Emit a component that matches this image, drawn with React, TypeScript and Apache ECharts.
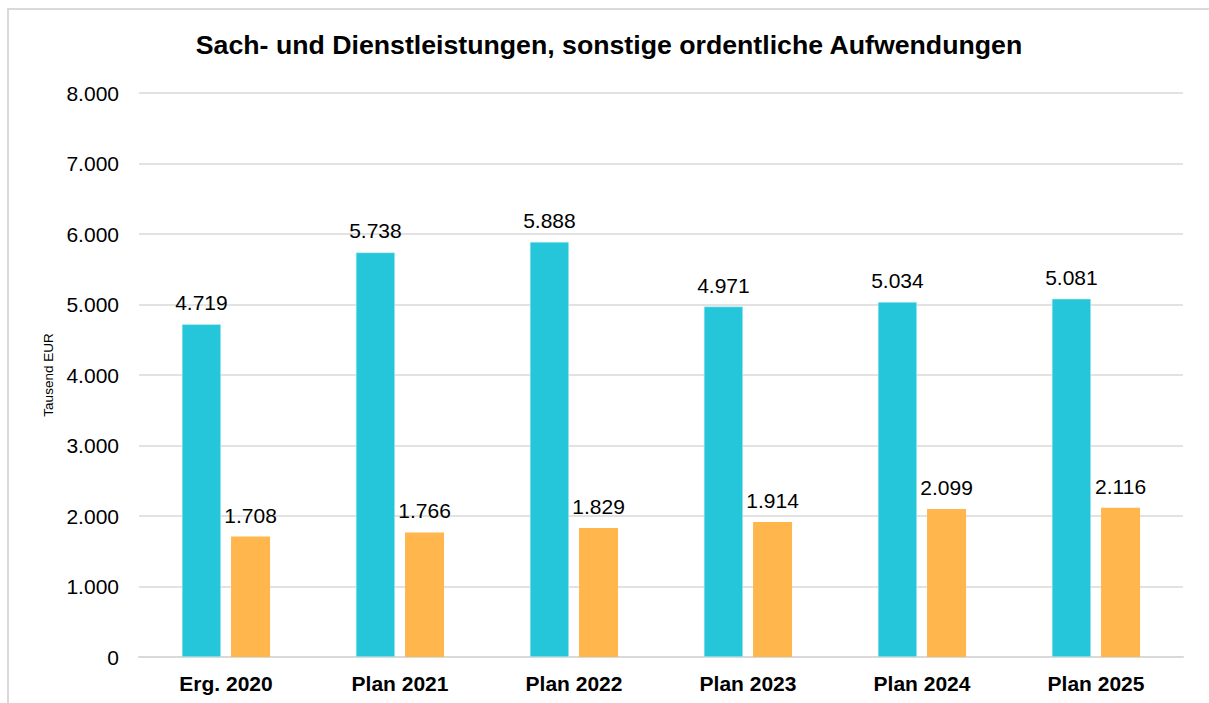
import React, { useEffect, useRef } from "react";
import * as echarts from "echarts";

const categories = ["Erg. 2020", "Plan 2021", "Plan 2022", "Plan 2023", "Plan 2024", "Plan 2025"];
const seriesA = [4719, 5738, 5888, 4971, 5034, 5081];
const seriesB = [1708, 1766, 1829, 1914, 2099, 2116];
const seriesNames = ["Sach- und Dienstleistungen", "sonstige ordentliche Aufwendungen"];
const titleText = "Sach- und Dienstleistungen, sonstige ordentliche Aufwendungen";
const yAxisName = "Tausend EUR";

const FONT = '"Liberation Sans", Arial, Helvetica, sans-serif';

const fmt = (v: number) => {
  const s = Math.round(v).toString();
  return s.replace(/\B(?=(\d{3})+(?!\d))/g, ".");
};

export default function App() {
  const ref = useRef<HTMLDivElement>(null);
  useEffect(() => {
    document.documentElement.style.overflow = "hidden";
    document.body.style.overflow = "hidden";
    if (!ref.current) return;
    const chart = echarts.init(ref.current, undefined, { renderer: "svg" });
    const label = {
      show: true,
      position: "top" as const,
      distance: 11,
      fontSize: 21,
      fontFamily: FONT,
      color: "#000",
      formatter: (p: any) => fmt(p.value),
    };
    chart.setOption({
      animation: false,
      backgroundColor: "#fff",
      textStyle: { fontFamily: FONT },
      graphic: [
        {
          type: "text",
          x: 600,
          y: 35,
          style: {
            text: titleText,
            textAlign: "center",
            textVerticalAlign: "middle",
            fontSize: 26.7,
            fontWeight: "bold",
            fontFamily: FONT,
            fill: "#000",
          },
        },
      ],
      grid: { left: 130, right: 26, top: 83, bottom: 46, containLabel: false },
      xAxis: {
        type: "category",
        data: categories,
        axisLine: { show: true, lineStyle: { color: "#d9d9d9", width: 2 } },
        axisTick: { show: false },
        axisLabel: { fontSize: 21, fontWeight: "bold", color: "#000", margin: 16, fontFamily: FONT },
      },
      yAxis: {
        type: "value",
        min: 0,
        max: 8000,
        interval: 1000,
        name: yAxisName,
        nameLocation: "middle",
        nameGap: 83,
        nameTextStyle: { fontSize: 13.5, color: "#000", fontFamily: FONT },
        axisLine: { show: false },
        axisTick: { show: false },
        axisLabel: { fontSize: 21, color: "#000", margin: 20, fontFamily: FONT, formatter: (v: number) => fmt(v) },
        splitLine: { lineStyle: { color: "#d9d9d9", width: 1.5 } },
      },
      series: [
        {
          name: seriesNames[0],
          type: "bar",
          data: seriesA,
          barWidth: 39,
          barGap: "26%",
          itemStyle: { color: "#26C6DA", borderColor: "#c8f0f5", borderWidth: 0.5 },
          label,
        },
        {
          name: seriesNames[1],
          type: "bar",
          data: seriesB,
          barWidth: 39,
          barGap: "26%",
          itemStyle: { color: "#FFB64D" },
          label,
        },
      ],
    });
    return () => chart.dispose();
  }, []);
  return (
    <div
      ref={ref}
      style={{
        position: "fixed",
        left: 7,
        top: 8,
        width: 1202,
        height: 695,
        boxSizing: "border-box",
        borderTop: "2px solid #d9d9d9",
        borderLeft: "2px solid #d9d9d9",
      }}
    />
  );
}
